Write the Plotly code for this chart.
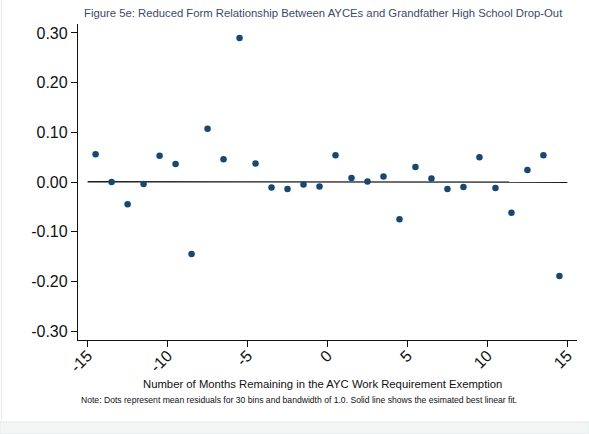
import plotly.graph_objects as go

# Data
bin_x = [-14.5, -13.5, -12.5, -11.5, -10.5, -9.5, -8.5, -7.5, -6.5, -5.5,
         -4.5, -3.5, -2.5, -1.5, -0.5, 0.5, 1.5, 2.5, 3.5, 4.5,
         5.5, 6.5, 7.5, 8.5, 9.5, 10.5, 11.5, 12.5, 13.5, 14.5]
resid_y = [0.056, 0.000, -0.045, -0.004, 0.053, 0.036, -0.145, 0.107, 0.046, 0.290,
           0.037, -0.011, -0.014, -0.005, -0.009, 0.054, 0.008, 0.001, 0.011, -0.075,
           0.030, 0.007, -0.014, -0.010, 0.050, -0.012, -0.062, 0.024, 0.054, -0.189]
fit_x = [-15, 15]
fit_y = [0.0005, -0.0005]

x_tickvals = [-15, -10, -5, 0, 5, 10, 15]
x_ticktext = ["-15", "-10", "-5", "0", "5", "10", "15"]
y_tickvals = [-0.3, -0.2, -0.1, 0.0, 0.1, 0.2, 0.3]
y_ticktext = ["-0.30", "-0.20", "-0.10", "0.00", "0.10", "0.20", "0.30"]

title_text = "Figure 5e: Reduced Form Relationship Between AYCEs and Grandfather High School Drop-Out"
xtitle_text = "Number of Months Remaining in the AYC Work Requirement Exemption"
note_text = ("Note: Dots represent mean residuals for 30 bins and bandwidth of 1.0. "
             "Solid line shows the esimated best linear fit.")

FONT = "Liberation Sans, Arial, sans-serif"

fig = go.Figure()
fig.add_trace(go.Scatter(x=fit_x, y=fit_y, mode="lines",
                         line=dict(color="#1a1a1a", width=1.3),
                         showlegend=False, hoverinfo="skip"))
fig.add_trace(go.Scatter(x=bin_x, y=resid_y, mode="markers",
                         marker=dict(color="#1a476f", size=6.5),
                         showlegend=False))

fig.update_layout(
    width=589, height=434,
    margin=dict(l=78, r=12, t=24, b=94, autoexpand=False),
    paper_bgcolor="white", plot_bgcolor="white",
    font=dict(family=FONT, color="#111111"),
    showlegend=False,
    xaxis=dict(range=[-15.6, 15.6], tickvals=x_tickvals, ticktext=x_ticktext,
               tickangle=-45, tickfont=dict(size=16, color="#111111"),
               ticks="outside", ticklen=6, tickcolor="#111111", tickwidth=1.2,
               ticklabelstandoff=-7,
               showline=True, linecolor="#111111", linewidth=1.3,
               showgrid=False, zeroline=False, automargin=False),
    yaxis=dict(range=[-0.318, 0.318], tickvals=y_tickvals, ticktext=y_ticktext,
               tickfont=dict(size=16, color="#111111"),
               ticks="outside", ticklen=6, tickcolor="#111111", tickwidth=1.2,
               showline=True, linecolor="#111111", linewidth=1.3,
               showgrid=False, zeroline=False, automargin=False),
    annotations=[
        dict(text=title_text, xref="paper", yref="paper", x=0.4916, y=1.0348,
             xanchor="center", yanchor="middle", showarrow=False,
             font=dict(size=11.3, color="#3c4a68", family=FONT)),
        dict(text=xtitle_text, xref="paper", yref="paper", x=0.4896, y=-0.139,
             xanchor="center", yanchor="middle", showarrow=False,
             font=dict(size=11.3, color="#111111", family=FONT)),
        dict(text=note_text, xref="paper", yref="paper", x=0.4435, y=-0.19,
             xanchor="center", yanchor="middle", showarrow=False,
             font=dict(size=8.6, color="#111111", family=FONT)),
    ],
    shapes=[
        dict(type="rect", xref="paper", yref="paper",
             x0=-78/499, x1=(589-78)/499, y0=(340-434)/316, y1=(340-422)/316,
             fillcolor="#f4f6f6", line=dict(color="#e3eaea", width=1), layer="below"),
        dict(type="line", xref="paper", yref="paper",
             x0=-76.5/499, x1=-76.5/499, y0=(340-422)/316, y1=(340-0)/316,
             line=dict(color="#e8eeee", width=1), layer="below"),
    ],
)

fig.write_html("out.html", config={"displayModeBar": False},
               post_script="document.body.style.margin='0';document.body.style.overflow='hidden';")
